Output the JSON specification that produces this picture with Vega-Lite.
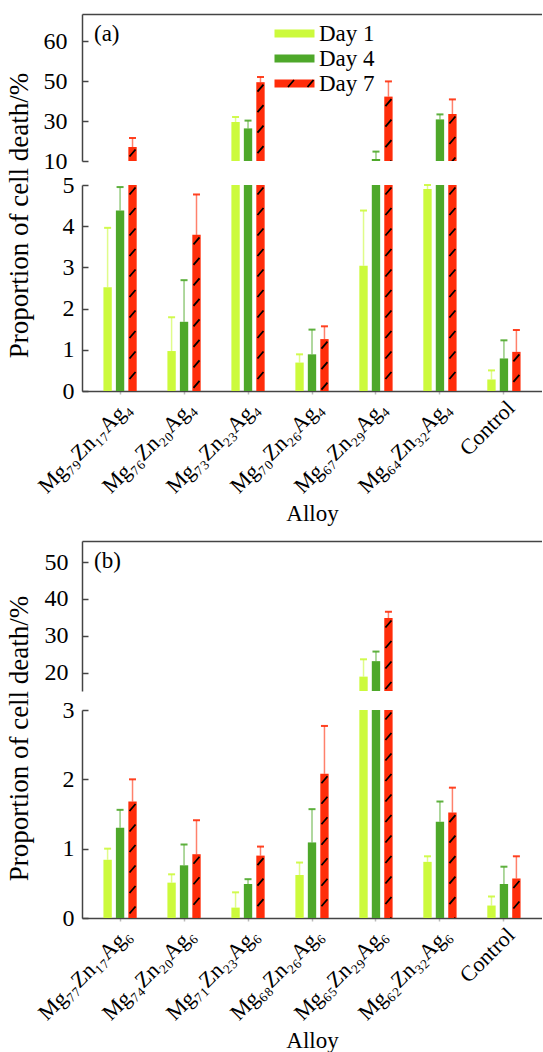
{
  "$schema": "https://vega.github.io/schema/vega-lite/v6.json",
  "padding": {"top": 14, "left": 4, "right": 0, "bottom": 0},
  "datasets": {
    "a": [
      {"Alloy": "Mg₇₉Zn₁₇Ag₄", "Day": "Day 1", "value": 2.52, "upper": 3.96},
      {"Alloy": "Mg₇₉Zn₁₇Ag₄", "Day": "Day 4", "value": 4.38, "upper": 4.95},
      {"Alloy": "Mg₇₉Zn₁₇Ag₄", "Day": "Day 7", "value": 17, "upper": 21.5},
      {"Alloy": "Mg₇₆Zn₂₀Ag₄", "Day": "Day 1", "value": 0.97, "upper": 1.79},
      {"Alloy": "Mg₇₆Zn₂₀Ag₄", "Day": "Day 4", "value": 1.68, "upper": 2.69},
      {"Alloy": "Mg₇₆Zn₂₀Ag₄", "Day": "Day 7", "value": 3.79, "upper": 4.77},
      {"Alloy": "Mg₇₃Zn₂₃Ag₄", "Day": "Day 1", "value": 29.5, "upper": 32},
      {"Alloy": "Mg₇₃Zn₂₃Ag₄", "Day": "Day 4", "value": 26.3, "upper": 30.2},
      {"Alloy": "Mg₇₃Zn₂₃Ag₄", "Day": "Day 7", "value": 49.4, "upper": 52},
      {"Alloy": "Mg₇₀Zn₂₆Ag₄", "Day": "Day 1", "value": 0.69, "upper": 0.89},
      {"Alloy": "Mg₇₀Zn₂₆Ag₄", "Day": "Day 4", "value": 0.89, "upper": 1.49},
      {"Alloy": "Mg₇₀Zn₂₆Ag₄", "Day": "Day 7", "value": 1.26, "upper": 1.57},
      {"Alloy": "Mg₆₇Zn₂₉Ag₄", "Day": "Day 1", "value": 3.04, "upper": 4.38},
      {"Alloy": "Mg₆₇Zn₂₉Ag₄", "Day": "Day 4", "value": 11, "upper": 14.7},
      {"Alloy": "Mg₆₇Zn₂₉Ag₄", "Day": "Day 7", "value": 42.2, "upper": 49.8},
      {"Alloy": "Mg₆₄Zn₃₂Ag₄", "Day": "Day 1", "value": 4.9, "upper": 5.11},
      {"Alloy": "Mg₆₄Zn₃₂Ag₄", "Day": "Day 4", "value": 30.8, "upper": 33.3},
      {"Alloy": "Mg₆₄Zn₃₂Ag₄", "Day": "Day 7", "value": 33.5, "upper": 40.8},
      {"Alloy": "Control", "Day": "Day 1", "value": 0.28, "upper": 0.5},
      {"Alloy": "Control", "Day": "Day 4", "value": 0.79, "upper": 1.23},
      {"Alloy": "Control", "Day": "Day 7", "value": 0.95, "upper": 1.48}
    ],
    "b": [
      {"Alloy": "Mg₇₇Zn₁₇Ag₆", "Day": "Day 1", "value": 0.84, "upper": 1.0},
      {"Alloy": "Mg₇₇Zn₁₇Ag₆", "Day": "Day 4", "value": 1.3, "upper": 1.56},
      {"Alloy": "Mg₇₇Zn₁₇Ag₆", "Day": "Day 7", "value": 1.68, "upper": 2.0},
      {"Alloy": "Mg₇₄Zn₂₀Ag₆", "Day": "Day 1", "value": 0.51, "upper": 0.63},
      {"Alloy": "Mg₇₄Zn₂₀Ag₆", "Day": "Day 4", "value": 0.76, "upper": 1.06},
      {"Alloy": "Mg₇₄Zn₂₀Ag₆", "Day": "Day 7", "value": 0.92, "upper": 1.41},
      {"Alloy": "Mg₇₁Zn₂₃Ag₆", "Day": "Day 1", "value": 0.15, "upper": 0.37},
      {"Alloy": "Mg₇₁Zn₂₃Ag₆", "Day": "Day 4", "value": 0.49, "upper": 0.56},
      {"Alloy": "Mg₇₁Zn₂₃Ag₆", "Day": "Day 7", "value": 0.9, "upper": 1.03},
      {"Alloy": "Mg₆₈Zn₂₆Ag₆", "Day": "Day 1", "value": 0.62, "upper": 0.8},
      {"Alloy": "Mg₆₈Zn₂₆Ag₆", "Day": "Day 4", "value": 1.09, "upper": 1.57},
      {"Alloy": "Mg₆₈Zn₂₆Ag₆", "Day": "Day 7", "value": 2.08, "upper": 2.77},
      {"Alloy": "Mg₆₅Zn₂₉Ag₆", "Day": "Day 1", "value": 18.9, "upper": 23.6},
      {"Alloy": "Mg₆₅Zn₂₉Ag₆", "Day": "Day 4", "value": 23.1, "upper": 25.7},
      {"Alloy": "Mg₆₅Zn₂₉Ag₆", "Day": "Day 7", "value": 34.8, "upper": 36.5},
      {"Alloy": "Mg₆₂Zn₃₂Ag₆", "Day": "Day 1", "value": 0.81, "upper": 0.89},
      {"Alloy": "Mg₆₂Zn₃₂Ag₆", "Day": "Day 4", "value": 1.39, "upper": 1.68},
      {"Alloy": "Mg₆₂Zn₃₂Ag₆", "Day": "Day 7", "value": 1.52, "upper": 1.88},
      {"Alloy": "Control", "Day": "Day 1", "value": 0.18, "upper": 0.31},
      {"Alloy": "Control", "Day": "Day 4", "value": 0.49, "upper": 0.74},
      {"Alloy": "Control", "Day": "Day 7", "value": 0.57, "upper": 0.89}
    ]
  },
  "spacing": 15,
  "vconcat": [
    {
      "bounds": "flush",
      "spacing": 24,
      "vconcat": [
        {
          "width": 460,
          "height": 147,
          "title": {"text": "(a)", "anchor": "start", "frame": "group", "orient": "top", "offset": -11, "dx": 12, "dy": 21, "fontSize": 23, "fontWeight": "normal", "font": "Liberation Serif", "color": "black"},
          "data": {"name": "a"},
          "transform": [{"filter": "datum.value > 10"}],
          "encoding": {
            "x": {"field": "Alloy", "type": "nominal", "scale": {"domain": ["Mg₇₉Zn₁₇Ag₄", "Mg₇₆Zn₂₀Ag₄", "Mg₇₃Zn₂₃Ag₄", "Mg₇₀Zn₂₆Ag₄", "Mg₆₇Zn₂₉Ag₄", "Mg₆₄Zn₃₂Ag₄", "Control"], "paddingInner": 0.48, "paddingOuter": 0.335}, "axis": {"orient": "top", "labels": false, "ticks": false, "title": null, "domain": true}},
            "xOffset": {"field": "Day", "type": "nominal", "scale": {"domain": ["Day 1", "Day 4", "Day 7"], "paddingInner": 0.33, "paddingOuter": 0}},
            "y": {"field": "value", "type": "quantitative", "title": null, "scale": {"domain": [10, 83.5], "nice": false, "zero": false}, "axis": {"values": [10, 30, 50, 70], "labelExpr": "datum.value == 70 ? '60' : datum.label", "title": null, "tickSize": -6, "labelPadding": 21, "labelFontSize": 24}},
            "color": {"field": "Day", "type": "nominal", "scale": {"range": ["#CCFA3C", "#4EA82A", "#FF2D0A"]}, "legend": {"title": null, "orient": "none", "legendX": 201, "legendY": 8, "symbolType": "M-4,-0.8H4V0.8H-4Z", "symbolStrokeWidth": 0, "symbolOpacity": 1, "labelOffset": 13}}
          },
          "layer": [
            {"mark": {"type": "bar"}, "encoding": {"y2": {"datum": 10}}},
            {"mark": {"type": "rule", "strokeWidth": 1.5, "opacity": 0.6}, "encoding": {"y2": {"field": "upper"}}},
            {"mark": {"type": "tick", "thickness": 2, "size": 7, "opacity": 0.9}, "encoding": {"y": {"field": "upper", "type": "quantitative", "title": null}}},
            {"transform": [{"filter": "datum.Day == 'Day 7'"}], "mark": {"type": "point", "shape": "M-3,9.5L3,2.5M-3,30L3,23M-3,50.5L3,43.5M-3,71L3,64M-3,91.5L3,84.5M-3,112L3,105M-3,132.5L3,125.5M-3,153L3,146M-3,173.5L3,166.5M-3,194L3,187M-3,214.5L3,207.5", "size": 4, "filled": false, "strokeWidth": 1.8, "opacity": 1, "clip": true, "strokeCap": "butt"}, "encoding": {"color": {"value": "black"}}},
            {"mark": {"type": "point", "filled": false, "size": 100, "opacity": 0}, "encoding": {"color": {"value": "black"}, "shape": {"field": "Day", "type": "nominal", "scale": {"domain": ["Day 1", "Day 4", "Day 7"], "range": ["M0,0", "M0,0", "M-1.3,0.7L-0.1,-0.7M2.6,0.7L3.8,-0.7"]}, "legend": {"title": null, "orient": "none", "legendX": 201, "legendY": 8, "labelOpacity": 0, "labelOffset": 13, "symbolOpacity": 1, "symbolStrokeColor": "black", "symbolStrokeWidth": 1.8, "symbolFillColor": "transparent"}}}}
          ]
        },
        {
          "width": 460,
          "height": 206,
          "data": {"name": "a"},
          "encoding": {
            "x": {"field": "Alloy", "type": "nominal", "scale": {"domain": ["Mg₇₉Zn₁₇Ag₄", "Mg₇₆Zn₂₀Ag₄", "Mg₇₃Zn₂₃Ag₄", "Mg₇₀Zn₂₆Ag₄", "Mg₆₇Zn₂₉Ag₄", "Mg₆₄Zn₃₂Ag₄", "Control"], "paddingInner": 0.48, "paddingOuter": 0.335}, "axis": {"orient": "bottom", "labelAngle": -45, "labelAlign": "right", "labelBaseline": "top", "labelFontSize": 22, "labelPadding": 3, "labelLimit": 0, "title": "Alloy", "titlePadding": 6, "tickSize": 3, "tickColor": "#bbbbbb"}},
            "xOffset": {"field": "Day", "type": "nominal", "scale": {"domain": ["Day 1", "Day 4", "Day 7"], "paddingInner": 0.33, "paddingOuter": 0}},
            "y": {"field": "value", "type": "quantitative", "title": "Proportion of cell death/%", "scale": {"domain": [0, 5], "nice": false, "clamp": true}, "axis": {"values": [0, 1, 2, 3, 4, 5], "title": "Proportion of cell death/%", "titleFontSize": 27, "titleX": -49, "titleY": 30, "titleBaseline": "bottom", "tickSize": -6, "labelPadding": 14, "labelFontSize": 24}},
            "color": {"field": "Day", "type": "nominal", "scale": {"range": ["#CCFA3C", "#4EA82A", "#FF2D0A"]}, "legend": null}
          },
          "layer": [
            {"mark": {"type": "bar"}, "encoding": {"y2": {"datum": 0}}},
            {"transform": [{"filter": "datum.value < 5"}], "mark": {"type": "rule", "strokeWidth": 1.5, "opacity": 0.6}, "encoding": {"y2": {"field": "upper"}}},
            {"transform": [{"filter": "datum.value < 5"}], "mark": {"type": "tick", "thickness": 2, "size": 7, "opacity": 0.9}, "encoding": {"y": {"field": "upper", "type": "quantitative", "title": "Proportion of cell death/%"}}},
            {"transform": [{"filter": "datum.Day == 'Day 7'"}], "mark": {"type": "point", "shape": "M-3,9.5L3,2.5M-3,30L3,23M-3,50.5L3,43.5M-3,71L3,64M-3,91.5L3,84.5M-3,112L3,105M-3,132.5L3,125.5M-3,153L3,146M-3,173.5L3,166.5M-3,194L3,187M-3,214.5L3,207.5", "size": 4, "filled": false, "strokeWidth": 1.8, "opacity": 1, "clip": true, "strokeCap": "butt"}, "encoding": {"color": {"value": "black"}}}
          ]
        }
      ]
    },
    {
      "bounds": "flush",
      "spacing": 19,
      "vconcat": [
        {
          "width": 460,
          "height": 150,
          "title": {"text": "(b)", "anchor": "start", "frame": "group", "orient": "top", "offset": -11, "dx": 12, "dy": 21, "fontSize": 23, "fontWeight": "normal", "font": "Liberation Serif", "color": "black"},
          "data": {"name": "b"},
          "transform": [{"filter": "datum.value > 15"}],
          "encoding": {
            "x": {"field": "Alloy", "type": "nominal", "scale": {"domain": ["Mg₇₇Zn₁₇Ag₆", "Mg₇₄Zn₂₀Ag₆", "Mg₇₁Zn₂₃Ag₆", "Mg₆₈Zn₂₆Ag₆", "Mg₆₅Zn₂₉Ag₆", "Mg₆₂Zn₃₂Ag₆", "Control"], "paddingInner": 0.48, "paddingOuter": 0.335}, "axis": {"orient": "top", "labels": false, "ticks": false, "title": null, "domain": true}},
            "xOffset": {"field": "Day", "type": "nominal", "scale": {"domain": ["Day 1", "Day 4", "Day 7"], "paddingInner": 0.33, "paddingOuter": 0}},
            "y": {"field": "value", "type": "quantitative", "title": null, "scale": {"domain": [15, 55.7], "nice": false, "zero": false}, "axis": {"values": [20, 30, 40, 50], "title": null, "tickSize": -6, "labelPadding": 20, "labelFontSize": 24}},
            "color": {"field": "Day", "type": "nominal", "scale": {"range": ["#CCFA3C", "#4EA82A", "#FF2D0A"]}, "legend": {"title": null, "orient": "none", "legendX": 148, "legendY": 39, "symbolType": "M-4,-0.8H4V0.8H-4Z", "symbolStrokeWidth": 0, "symbolOpacity": 1, "labelOffset": 13}}
          },
          "layer": [
            {"mark": {"type": "bar"}, "encoding": {"y2": {"datum": 15}}},
            {"mark": {"type": "rule", "strokeWidth": 1.5, "opacity": 0.6}, "encoding": {"y2": {"field": "upper"}}},
            {"mark": {"type": "tick", "thickness": 2, "size": 7, "opacity": 0.9}, "encoding": {"y": {"field": "upper", "type": "quantitative", "title": null}}},
            {"transform": [{"filter": "datum.Day == 'Day 7'"}], "mark": {"type": "point", "shape": "M-3,9.5L3,2.5M-3,30L3,23M-3,50.5L3,43.5M-3,71L3,64M-3,91.5L3,84.5M-3,112L3,105M-3,132.5L3,125.5M-3,153L3,146M-3,173.5L3,166.5M-3,194L3,187M-3,214.5L3,207.5", "size": 4, "filled": false, "strokeWidth": 1.8, "opacity": 1, "clip": true, "strokeCap": "butt"}, "encoding": {"color": {"value": "black"}}},
            {"mark": {"type": "point", "filled": false, "size": 100, "opacity": 0}, "encoding": {"color": {"value": "black"}, "shape": {"field": "Day", "type": "nominal", "scale": {"domain": ["Day 1", "Day 4", "Day 7"], "range": ["M0,0", "M0,0", "M-1.3,0.7L-0.1,-0.7M2.6,0.7L3.8,-0.7"]}, "legend": {"title": null, "orient": "none", "legendX": 148, "legendY": 39, "labelOpacity": 0, "labelOffset": 13, "symbolOpacity": 1, "symbolStrokeColor": "black", "symbolStrokeWidth": 1.8, "symbolFillColor": "transparent"}}}}
          ]
        },
        {
          "width": 460,
          "height": 208,
          "data": {"name": "b"},
          "encoding": {
            "x": {"field": "Alloy", "type": "nominal", "scale": {"domain": ["Mg₇₇Zn₁₇Ag₆", "Mg₇₄Zn₂₀Ag₆", "Mg₇₁Zn₂₃Ag₆", "Mg₆₈Zn₂₆Ag₆", "Mg₆₅Zn₂₉Ag₆", "Mg₆₂Zn₃₂Ag₆", "Control"], "paddingInner": 0.48, "paddingOuter": 0.335}, "axis": {"orient": "bottom", "labelAngle": -45, "labelAlign": "right", "labelBaseline": "top", "labelFontSize": 22, "labelPadding": 3, "labelLimit": 0, "title": "Alloy", "titlePadding": 6, "tickSize": 3, "tickColor": "#bbbbbb"}},
            "xOffset": {"field": "Day", "type": "nominal", "scale": {"domain": ["Day 1", "Day 4", "Day 7"], "paddingInner": 0.33, "paddingOuter": 0}},
            "y": {"field": "value", "type": "quantitative", "title": "Proportion of cell death/%", "scale": {"domain": [0, 3], "nice": false, "clamp": true}, "axis": {"values": [0, 1, 2, 3], "title": "Proportion of cell death/%", "titleFontSize": 27, "titleX": -49, "titleY": 28, "titleBaseline": "bottom", "tickSize": -6, "labelPadding": 14, "labelFontSize": 24}},
            "color": {"field": "Day", "type": "nominal", "scale": {"range": ["#CCFA3C", "#4EA82A", "#FF2D0A"]}, "legend": null}
          },
          "layer": [
            {"mark": {"type": "bar"}, "encoding": {"y2": {"datum": 0}}},
            {"transform": [{"filter": "datum.value < 3"}], "mark": {"type": "rule", "strokeWidth": 1.5, "opacity": 0.6}, "encoding": {"y2": {"field": "upper"}}},
            {"transform": [{"filter": "datum.value < 3"}], "mark": {"type": "tick", "thickness": 2, "size": 7, "opacity": 0.9}, "encoding": {"y": {"field": "upper", "type": "quantitative", "title": "Proportion of cell death/%"}}},
            {"transform": [{"filter": "datum.Day == 'Day 7'"}], "mark": {"type": "point", "shape": "M-3,9.5L3,2.5M-3,30L3,23M-3,50.5L3,43.5M-3,71L3,64M-3,91.5L3,84.5M-3,112L3,105M-3,132.5L3,125.5M-3,153L3,146M-3,173.5L3,166.5M-3,194L3,187M-3,214.5L3,207.5", "size": 4, "filled": false, "strokeWidth": 1.8, "opacity": 1, "clip": true, "strokeCap": "butt"}, "encoding": {"color": {"value": "black"}}}
          ]
        }
      ]
    }
  ],
  "config": {
    "font": "Liberation Serif",
    "view": {"stroke": null},
    "axis": {"labelFont": "Liberation Serif", "titleFont": "Liberation Serif", "labelFontSize": 23, "titleFontSize": 23, "labelColor": "black", "titleColor": "black", "titleFontWeight": "normal", "domainColor": "#444444", "domainWidth": 1.5, "tickColor": "#444444", "tickWidth": 1.5, "grid": false},
    "legend": {"labelFont": "Liberation Serif", "labelFontSize": 23, "labelColor": "black", "padding": 0, "rowPadding": 1, "symbolSize": 100, "labelOffset": 20, "labelLimit": 0, "titlePadding": 0}
  }
}
